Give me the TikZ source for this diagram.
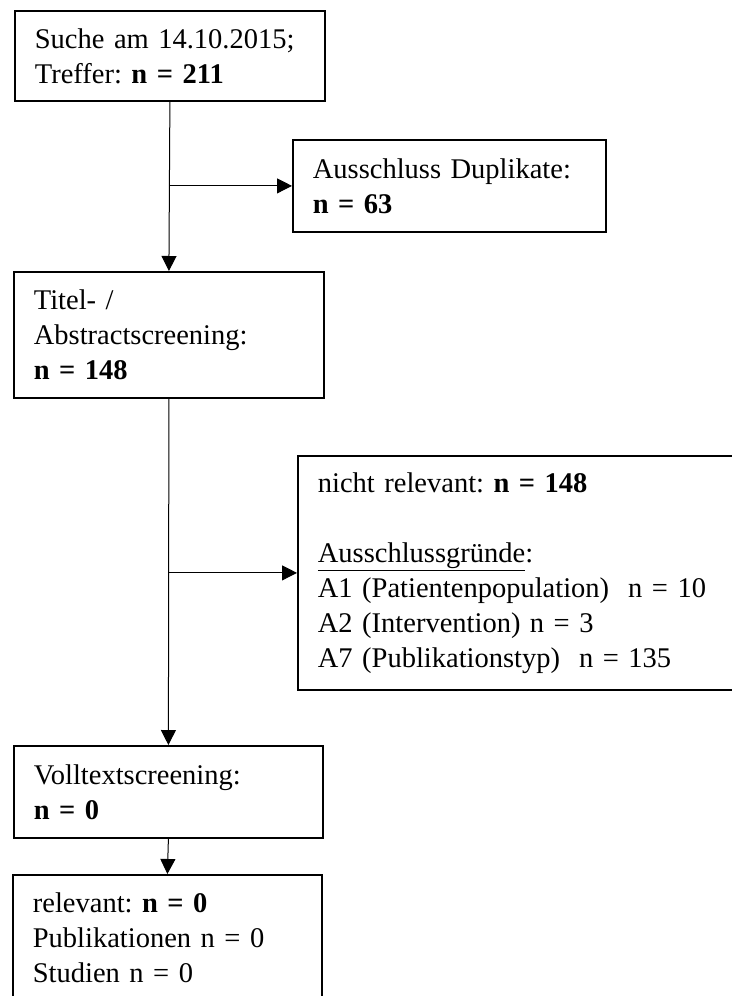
\documentclass[tikz,border=0pt]{standalone}
\usepackage{fontspec}
\setmainfont{Liberation Serif}
\usetikzlibrary{arrows.meta}
\frenchspacing

\begin{document}
\begin{tikzpicture}[x=1pt,y=-1pt,>={Triangle[width=15pt,length=15pt]},line width=1pt,
  box node/.style={draw,line width=1.8pt,anchor=north west,align=left,inner xsep=20pt,inner ysep=0pt,font=\fontsize{28.5}{35}\selectfont}]

            \useasboundingbox (0,0) rectangle (731,996);

            \node[box node,text width=270pt,minimum height=90pt] (suche) at (14,10) {Suche am 14.10.2015;\\Treffer: \textbf{n = 211}};
            \node[box node,text width=273pt,minimum height=92pt] (dupl) at (292,139) {Ausschluss Duplikate:\\\textbf{n = 63}};
            \node[box node,text width=270pt,minimum height=126pt] (titel) at (13,271) {Titel- /\\Abstractscreening:\\\textbf{n = 148}};
            \node[box node,text width=408pt,minimum height=234pt] (nicht) at (297,455) {nicht relevant: \textbf{n = 148}\\[35pt]\underline{Ausschlussgründe}:\\A1 (Patientenpopulation)\ \ n = 10\\A2 (Intervention) n = 3\\A7 (Publikationstyp)\ \ n = 135};
            \node[box node,text width=269pt,minimum height=92pt] (voll) at (13,745) {Volltextscreening:\\\textbf{n = 0}};
            \node[box node,text width=269pt,minimum height=126pt] (relevant) at (12,874) {relevant: \textbf{n = 0}\\Publikationen n = 0\\Studien n = 0};

            \coordinate (split1) at (suche.south |- dupl.west);
            \coordinate (split2) at (titel.south |- nicht.west);

            \path[->]
                (suche.south) edge (titel.north)
                (split1) edge (dupl.west)
                (titel.south) edge (voll.north)
                (split2) edge (nicht.west)
                (voll.south) edge (relevant.north)
                ;
        \end{tikzpicture}
\end{document}
